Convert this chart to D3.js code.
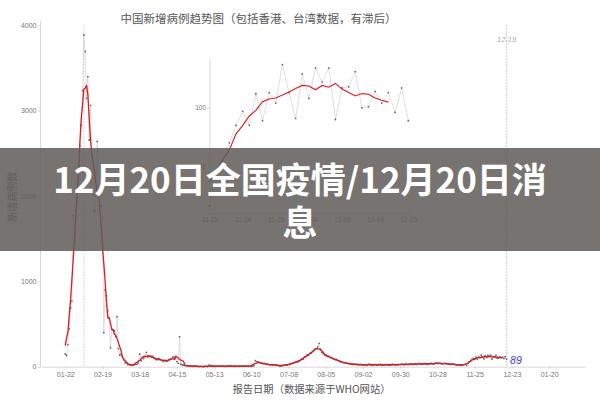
<!DOCTYPE html>
<html><head><meta charset="utf-8">
<script src="https://cdn.jsdelivr.net/npm/d3@7"></script>
<style>body{margin:0;background:#fff}svg{display:block}</style>
</head><body><svg id="c" width="600" height="400"></svg>
<script>
// ---- data (WHO report date, daily new cases, from 2020-01-22) ----
const startDate = "2020-01-22";
const jan = [149, 131, 259, 444, 688, 769, 1771, 1459, 1737, 1982];
const feb = [2102, 2590, 2829, 3235, 3887, 3694, 3143, 3399, 2656, 3062, 2478, 2015, 1820, 1998, 2641, 2009, 2048, 1886, 1749, 399, 899, 832, 656, 567, 223, 438, 430, 422, 352];
const mar = [586, 211, 137, 145, 120, 80, 45, 46, 25, 26, 20, 15, 18, 25, 28, 30, 45, 149, 70, 110, 95, 125, 168, 112, 129, 118, 122, 120, 98, 85, 80];
const apr = [95, 90, 80, 72, 60, 78, 65, 70, 75, 85, 95, 115, 110, 95, 60, 40, 352, 30, 20, 18, 15, 12, 10, 8, 10, 6, 5, 8, 6, 7];
const may = [3, 2, 3, 2, 2, 3, 4, 1, 14, 18, 5, 8, 5, 4, 7, 6, 6, 7, 5, 6, 4, 3, 5, 12, 10, 8, 6, 4, 3, 6, 4];
const jun = [5, 7, 6, 8, 6, 9, 6, 5, 4, 8, 6, 15, 72, 60, 55, 50, 45, 38, 35, 40, 30, 28, 25, 22, 24, 20, 23, 18, 20, 15];
const jul = [10, 8, 12, 15, 18, 22, 20, 25, 32, 35, 40, 48, 52, 60, 55, 68, 75, 95, 88, 115, 118, 140, 132, 155, 158, 178, 188, 205, 210, 232, 274];
const aug = [205, 168, 155, 138, 132, 120, 124, 110, 108, 95, 92, 82, 85, 75, 68, 58, 57, 48, 47, 40, 42, 35, 37, 30, 33, 26, 31, 24, 29, 23, 27];
const sep = [22, 18, 25, 20, 15, 28, 30, 19, 17, 24, 26, 21, 18, 23, 29, 16, 20, 25, 22, 27, 19, 18, 24, 30, 21, 26, 23, 20, 28, 25];
const oct = [30, 26, 22, 35, 28, 24, 30, 33, 27, 29, 36, 31, 25, 40, 28, 34, 30, 38, 32, 29, 35, 33, 41, 37, 30, 36, 45, 39, 42, 38, 34];
const nov = [35, 40, 38, 32, 36, 30, 28, 34, 30, 26, 22, 20, 24, 18, 15, 20, 25, 30, 16, 40, 55, 70, 85, 97, 85, 112, 89, 113, 104, 137];
const dec = [113, 91, 129, 108, 134, 122, 134, 90, 117, 118, 131, 100, 101, 114, 104, 113, 96, 117, 89];

const yTicks = [0, 1000, 2000, 3000, 4000];
const xTickLabels = ["2020-01-22","2020-02-19","2020-03-18","2020-04-15","2020-05-13","2020-06-10","2020-07-08","2020-08-05","2020-09-02","2020-09-30","2020-10-28","2020-11-25","2020-12-23","2021-01-20"];
const insetXTickLabels = ["2020-11-19","2020-11-24","2020-11-29","2020-12-04","2020-12-09","2020-12-14","2020-12-19"];
const insetYTicks = [50, 100];
const insetStart = "2020-11-19";
const markDate = "2020-12-19";

const titleText = "中国新增病例趋势图（包括香港、台湾数据，有滞后）";
const xTitleText = "报告日期（数据来源于WHO网站）";
const yTitleText = "新增病例数";
const bannerLines = ["12月20日全国疫情/12月20日消", "息"];

// ---- build series ----
const values = [].concat(jan, feb, mar, apr, may, jun, jul, aug, sep, oct, nov, dec);
const parse = d3.utcParse("%Y-%m-%d");
const t0 = parse(startDate);
const series = values.map((v, i) => ({date: d3.utcDay.offset(t0, i), v}));
// centered 7-day mean
const smooth = [];
for (let i = 0; i < series.length - 3; i++) {
  const w = values.slice(Math.max(0, i - 3), i + 4);
  smooth.push({date: series[i].date, v: d3.mean(w)});
}

const svg = d3.select("#c");
const fontLat = "'Liberation Sans', Arial, sans-serif";
const fontCJK = "'Noto Sans CJK SC', 'Noto Sans', sans-serif";
const fmtInt = d3.format("d");

// ---- main scales ----
const x = d3.scaleUtc().domain([parse("2020-01-03"), parse("2021-02-16")]).range([40, 585]);
const y = d3.scaleLinear().domain([0, 4060]).range([366.7, 20.2]);

function styleAxis(g, fs) {
  g.select(".domain").attr("stroke", "#cfcfcf").attr("stroke-width", 0.8);
  g.selectAll(".tick line").attr("stroke", "#bbb").attr("stroke-width", 0.7);
  g.selectAll(".tick text").attr("fill", "#777").style("font-family", fontLat).style("font-size", fs + "px");
}

const gy = svg.append("g").attr("transform", "translate(40,0)")
  .call(d3.axisLeft(y).tickValues(yTicks).tickFormat(fmtInt).tickSize(2).tickSizeOuter(0).tickPadding(1.5));
styleAxis(gy, 7);
const gx = svg.append("g").attr("transform", "translate(0,366.7)")
  .call(d3.axisBottom(x).tickValues(xTickLabels.map(parse)).tickFormat(d3.utcFormat("%m-%d")).tickSize(2).tickSizeOuter(0).tickPadding(3));
styleAxis(gx, 7);

// peak marker dotted line
const peak = series.reduce((a, b) => b.v > a.v ? b : a);
svg.append("line").attr("x1", x(peak.date)).attr("x2", x(peak.date)).attr("y1", y(4000)).attr("y2", y(0))
  .attr("stroke", "#bdbdbd").attr("stroke-width", 0.8).attr("stroke-dasharray", "1.5,1.5");
// latest date marker
const md = parse(markDate);
svg.append("line").attr("x1", x(md)).attr("x2", x(md)).attr("y1", y(4000)).attr("y2", y(0))
  .attr("stroke", "#a9a9ee").attr("stroke-width", 0.8).attr("stroke-dasharray", "1.5,1.5");
svg.append("text").attr("x", x(md)).attr("y", 42).attr("text-anchor", "middle")
  .attr("fill", "#aaa").style("font-family", fontLat).style("font-size", "7.5px").style("font-style", "italic")
  .text(d3.utcFormat("%m-%d")(md));

// main lines
const line = d3.line().x(d => x(d.date)).y(d => y(d.v));
svg.append("path").datum(series).attr("d", line).attr("fill", "none").attr("stroke", "#cacaca").attr("stroke-width", 0.6);
svg.append("g").selectAll("circle").data(series).join("circle")
  .attr("cx", d => x(d.date)).attr("cy", d => y(d.v)).attr("r", 0.9).attr("fill", "#666");
svg.append("path").datum(smooth).attr("d", line).attr("fill", "none").attr("stroke", "#e0191c").attr("stroke-width", 1.3).attr("stroke-linejoin", "round");

// last value label
const last = series[series.length - 1];
svg.append("text").attr("x", x(last.date) + 3.5).attr("y", y(last.v) + 4.5)
  .attr("fill", "#3b3bd6").style("font-family", fontLat).style("font-size", "10.5px").style("font-style", "italic")
  .text(last.v);

// ---- inset ----
const xi = d3.scaleUtc().domain([parse(insetStart), d3.utcHour.offset(parse(markDate), 8)]).range([209.5, 410.5]);
const yi = d3.scaleLinear().domain([10, 142.6]).range([213, 58]);
const gyi = svg.append("g").attr("transform", "translate(209.5,0)")
  .call(d3.axisLeft(yi).tickValues(insetYTicks).tickFormat(fmtInt).tickSize(2).tickSizeOuter(0).tickPadding(1.5));
styleAxis(gyi, 6.5);
const gxi = svg.append("g").attr("transform", "translate(0,213)")
  .call(d3.axisBottom(xi).tickValues(insetXTickLabels.map(parse)).tickFormat(d3.utcFormat("%m-%d")).tickSize(2).tickSizeOuter(0).tickPadding(2));
styleAxis(gxi, 6.5);
const ins = series.filter(d => d.date >= parse(insetStart));
const insS = smooth.filter(d => d.date >= parse(insetStart));
const linei = d3.line().x(d => xi(d.date)).y(d => yi(d.v));
svg.append("path").datum(ins).attr("d", linei).attr("fill", "none").attr("stroke", "#cacaca").attr("stroke-width", 0.6);
svg.append("g").selectAll("circle").data(ins).join("circle")
  .attr("cx", d => xi(d.date)).attr("cy", d => yi(d.v)).attr("r", 0.9).attr("fill", "#666");
svg.append("path").datum(insS).attr("d", linei).attr("fill", "none").attr("stroke", "#e0191c").attr("stroke-width", 1.1);

// ---- titles ----
svg.append("text").attr("x", 258.5).attr("y", 22.5).attr("text-anchor", "middle")
  .attr("fill", "#555").style("font-family", fontCJK).style("font-size", "11.5px").text(titleText);
svg.append("text").attr("x", 311.5).attr("y", 393).attr("text-anchor", "middle")
  .attr("fill", "#555").style("font-family", fontCJK).style("font-size", "10.3px").text(xTitleText);
svg.append("text").attr("transform", "translate(15.5,196.7) rotate(-90)").attr("text-anchor", "middle")
  .attr("fill", "#666").style("font-family", fontCJK).style("font-size", "10px").text(yTitleText);

// ---- banner ----
svg.append("rect").attr("x", 0).attr("y", 148).attr("width", 600).attr("height", 103).attr("fill", "rgba(96,92,88,0.86)");
svg.append("g").selectAll("text").data(bannerLines).join("text")
  .attr("x", 300).attr("y", (d, i) => 192.5 + i * 43.5).attr("text-anchor", "middle")
  .attr("fill", "#fff").style("font-family", fontCJK).style("font-size", "35px").style("font-weight", "bold")
  .text(d => d);
</script></body></html>
